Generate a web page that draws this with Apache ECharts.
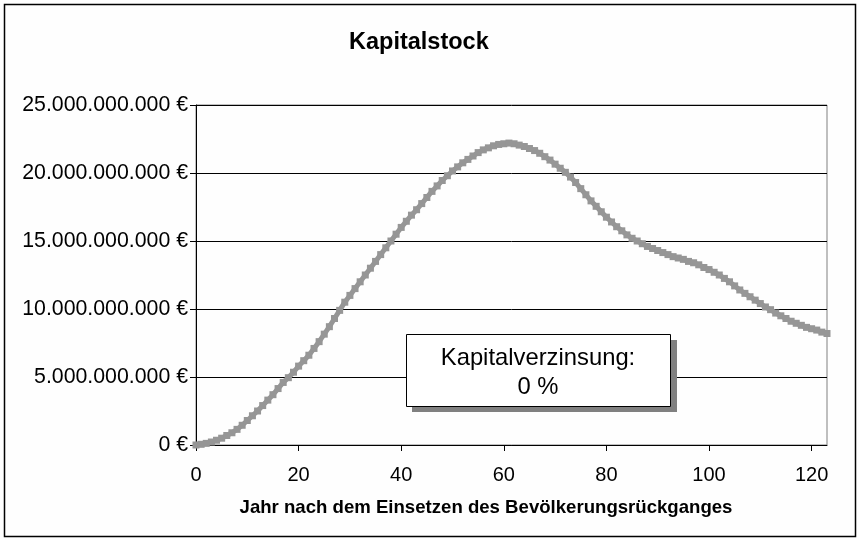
<!DOCTYPE html>
<html>
<head>
<meta charset="utf-8">
<title>Kapitalstock</title>
<script src="https://cdn.jsdelivr.net/npm/echarts@6/dist/echarts.min.js"></script>
<style>
  html, body { margin: 0; padding: 0; background: #fff; }
  #chart { width: 859px; height: 540px; }
</style>
</head>
<body>
<div id="chart"></div>
<script>
// Jahr nach dem Einsetzen des Bevölkerungsrückganges
const jahre = []
for (let j = 0; j <= 123; j++) jahre.push(j)

// Kapitalstock in Mrd. €
const kapitalMrd = [
  0, 0.05, 0.12, 0.22, 0.35, 0.5, 0.7, 0.9, 1.15, 1.45,
  1.8, 2.15, 2.5, 2.9, 3.3, 3.7, 4.15, 4.6, 4.95, 5.35,
  5.8, 6.2, 6.6, 7.1, 7.6, 8.15, 8.7, 9.3, 9.9, 10.5,
  11.0, 11.5, 12.0, 12.5, 13.0, 13.5, 14.0, 14.5, 15.0, 15.5,
  16.0, 16.45, 16.9, 17.3, 17.75, 18.2, 18.65, 19.05, 19.45, 19.8,
  20.15, 20.45, 20.75, 21.0, 21.25, 21.5, 21.7, 21.85, 22.0, 22.1,
  22.15, 22.2, 22.15, 22.05, 21.95, 21.8, 21.65, 21.45, 21.2, 20.95,
  20.65, 20.35, 20.05, 19.7, 19.3, 18.85, 18.4, 17.95, 17.55, 17.15,
  16.75, 16.4, 16.05, 15.75, 15.45, 15.2, 15.0, 14.8, 14.6, 14.45,
  14.3, 14.15, 14.0, 13.85, 13.75, 13.65, 13.5, 13.4, 13.25, 13.05,
  12.9, 12.7, 12.5, 12.25, 12.0, 11.7, 11.4, 11.15, 10.9, 10.65,
  10.4, 10.15, 9.95, 9.7, 9.5, 9.3, 9.1, 8.95, 8.8, 8.65,
  8.55, 8.45, 8.3, 8.2
]

const xTicks = [0, 20, 40, 60, 80, 100, 120]
const annotationLines = ['Kapitalverzinsung:', '0 %']

const font = 'Liberation Sans, Arial, sans-serif'

// 1.000.000 € Schreibweise
const formatEuro = (mrd) => {
  const s = String(Math.round(mrd * 1e9)).replace(/\B(?=(\d{3})+(?!\d))/g, '.')
  return s + ' €'
}

const chart = echarts.init(document.getElementById('chart'))

const option = {
  backgroundColor: '#fefefe',
  animation: false,
  title: {
    text: 'Kapitalstock',
    left: 344,
    top: 26,
    textStyle: { fontFamily: font, fontSize: 23.5, fontWeight: 'bold', color: '#000' }
  },
  grid: {
    left: 196,
    right: 32,
    top: 105,
    bottom: 95,
    show: true,
    borderColor: '#808080',
    borderWidth: 1,
    backgroundColor: 'transparent'
  },
  xAxis: {
    type: 'value',
    min: 0,
    max: 123,
    interval: 20,
    axisLine: { show: true, lineStyle: { color: '#000', width: 1 } },
    axisTick: { show: true, length: 6, lineStyle: { color: '#000' }, customValues: xTicks },
    axisLabel: {
      customValues: xTicks,
      margin: 20,
      fontFamily: font,
      fontSize: 20,
      color: '#000'
    },
    splitLine: { show: false }
  },
  yAxis: {
    type: 'value',
    min: 0,
    max: 25,
    interval: 5,
    axisLine: { show: true, lineStyle: { color: '#000', width: 1 } },
    axisTick: { show: true, length: 6, lineStyle: { color: '#000' } },
    axisLabel: {
      margin: 8,
      fontFamily: font,
      fontSize: 21.3,
      color: '#000',
      formatter: formatEuro
    },
    splitLine: { show: true, lineStyle: { color: '#000', width: 1 } }
  },
  series: [{
    type: 'line',
    data: jahre.map((j, i) => [j, kapitalMrd[i]]),
    symbol: 'rect',
    symbolSize: 7,
    showSymbol: true,
    color: '#969696',
    itemStyle: { color: '#969696' },
    lineStyle: { color: '#969696', width: 5 },
    clip: false
  }],
  graphic: [
    // Rahmen um das ganze Diagramm
    {
      type: 'rect',
      shape: { x: 4.5, y: 4.5, width: 851, height: 532 },
      style: { fill: 'none', stroke: '#000', lineWidth: 1.5 },
      silent: true
    },
    // Achsentitel
    {
      type: 'text',
      x: 486,
      y: 508,
      style: {
        text: 'Jahr nach dem Einsetzen des Bevölkerungsrückganges',
        font: 'bold 18.6px ' + font,
        fill: '#000',
        align: 'center',
        verticalAlign: 'middle'
      }
    },
    // Textfeld mit Schatten
    {
      type: 'rect',
      shape: { x: 412, y: 340, width: 265, height: 72 },
      style: { fill: '#808080' },
      z: 100
    },
    {
      type: 'rect',
      shape: { x: 406.5, y: 334.5, width: 264, height: 72 },
      style: { fill: '#fff', stroke: '#000', lineWidth: 1 },
      z: 101
    },
    {
      type: 'text',
      x: 538,
      y: 372.5,
      z: 102,
      style: {
        text: annotationLines.join('\n'),
        font: '23.8px ' + font,
        lineHeight: 29,
        fill: '#000',
        align: 'center',
        verticalAlign: 'middle'
      }
    }
  ]
}

chart.setOption(option)
</script>
</body>
</html>
